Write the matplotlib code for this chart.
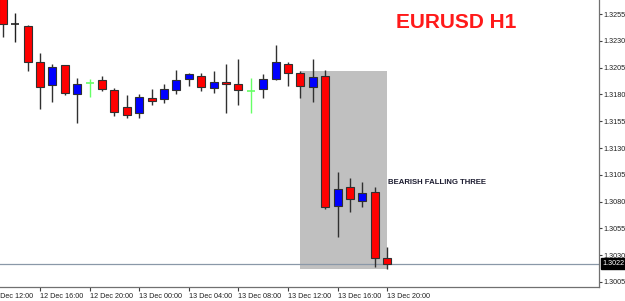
import matplotlib.pyplot as plt
import matplotlib.transforms as mtransforms
from matplotlib.patches import Rectangle

plt.rcParams["font.family"] = ["Liberation Sans", "DejaVu Sans"]

# EURUSD H1 bars, 12 Dec 13:00 -> 13 Dec 20:00
opens = [1.3272, 1.3246, 1.3244, 1.3210, 1.3189, 1.3207, 1.3180, 1.3191,
         1.3193, 1.3184, 1.3168, 1.3163, 1.3177, 1.3176, 1.3184, 1.3194,
         1.3197, 1.3186, 1.3192, 1.3190, 1.3183, 1.3185, 1.3194, 1.3208,
         1.3200, 1.3187, 1.3197, 1.3076, 1.3094, 1.3081, 1.3089, 1.3027]
highs = [1.3276, 1.3256, 1.3245, 1.3219, 1.3208, 1.3207, 1.3195, 1.3194,
         1.3197, 1.3186, 1.3179, 1.3180, 1.3185, 1.3190, 1.3203, 1.3200,
         1.3200, 1.3202, 1.3208, 1.3213, 1.3195, 1.3199, 1.3226, 1.3210,
         1.3202, 1.3213, 1.3203, 1.3108, 1.3102, 1.3098, 1.3094, 1.3038]
lows = [1.3234, 1.3229, 1.3202, 1.3166, 1.3173, 1.3179, 1.3153, 1.3178,
        1.3183, 1.3160, 1.3158, 1.3158, 1.3170, 1.3172, 1.3180, 1.3188,
        1.3183, 1.3181, 1.3163, 1.3170, 1.3163, 1.3177, 1.3193, 1.3188,
        1.3177, 1.3173, 1.3073, 1.3047, 1.3070, 1.3075, 1.3019, 1.3017]
closes = [1.3246, 1.3246, 1.3210, 1.3187, 1.3206, 1.3181, 1.3190, 1.3191,
          1.3185, 1.3164, 1.3161, 1.3178, 1.3174, 1.3185, 1.3193, 1.3199,
          1.3187, 1.3192, 1.3190, 1.3184, 1.3183, 1.3194, 1.3210, 1.3200,
          1.3188, 1.3196, 1.3075, 1.3092, 1.3082, 1.3088, 1.3027, 1.3022]
doji_colors = {1: "#202020", 7: "#66ff66", 20: "#66ff66"}

tick_pos = [-1, 3, 7, 11, 15, 19, 23, 27, 31]
tick_labels = ["12 Dec 12:00", "12 Dec 16:00", "12 Dec 20:00", "13 Dec 00:00",
               "13 Dec 04:00", "13 Dec 08:00", "13 Dec 12:00", "13 Dec 16:00",
               "13 Dec 20:00"]
price_ticks = [1.3005, 1.3030, 1.3055, 1.3080, 1.3105, 1.3130, 1.3155,
               1.3180, 1.3205, 1.3230, 1.3255]
last_price = 1.3022
pattern_box = (24, 31, 1.30171, 1.32018)  # x0, x1, y0, y1

XMIN, XMAX = -0.23, 48.08
LABEL_FS = 5.2

fig = plt.figure(figsize=(6.25, 3.01), dpi=100)
ax = fig.add_axes([0, 14 / 301, 599 / 625, 287 / 301])

# highlighted pattern area
x0, x1, y0, y1 = pattern_box
ax.add_patch(Rectangle((x0, y0), x1 - x0, y1 - y0, facecolor="#c0c0c0",
                       edgecolor="none", zorder=1))

ax.axhline(last_price, color="#8a98a8", lw=0.9, zorder=1.5)

body_w = 0.65
for i, (o, h, l, c) in enumerate(zip(opens, highs, lows, closes)):
    if i in doji_colors:
        col = doji_colors[i]
        ax.vlines(i, l, h, color=col, lw=1.0, zorder=2)
        ax.hlines(o, i - body_w / 2, i + body_w / 2, color=col, lw=1.2, zorder=3)
        continue
    ax.vlines(i, l, h, color="#303030", lw=1.0, zorder=2)
    face = "#0000ff" if c > o else "#ff0000"
    ax.bar(i, abs(c - o), bottom=min(o, c), width=body_w, color=face,
           edgecolor="#303030", linewidth=0.8, zorder=3)

# ticks inside the view go on the axis, the clipped first one is drawn by hand
inside = [(p, t) for p, t in zip(tick_pos, tick_labels) if p >= XMIN]
outside = [(p, t) for p, t in zip(tick_pos, tick_labels) if p < XMIN]
ax.set_xticks([p for p, _ in inside])
ax.set_xticklabels([t for _, t in inside], fontsize=LABEL_FS, color="#202020", ha="left")
ax.set_yticks(price_ticks)
ax.set_yticklabels([f"{p:.4f}" for p in price_ticks], fontsize=LABEL_FS, color="#202020")
ax.set_xlim(XMIN, XMAX)
ax.set_ylim(1.30003, 1.32681)
ax.yaxis.tick_right()
ax.tick_params(axis="x", length=3, width=0.8, color="#404040", pad=1.5)
ax.tick_params(axis="y", length=2, width=0.8, color="#404040", pad=1.5)

xtrans = mtransforms.blended_transform_factory(ax.transData, ax.transAxes)
for p, t in outside:
    ax.annotate(t, xy=(p, 0), xycoords=xtrans, xytext=(0, -4.5),
                textcoords="offset points", fontsize=LABEL_FS, color="#202020",
                ha="left", va="top", annotation_clip=False)

for side in ("left", "top"):
    ax.spines[side].set_visible(False)
for side in ("right", "bottom"):
    ax.spines[side].set_color("#707070")
    ax.spines[side].set_linewidth(0.9)

# current price marker on the scale
trans = mtransforms.blended_transform_factory(ax.transAxes, ax.transData)
ax.text(1.006, last_price, f"{last_price:.4f}", transform=trans, fontsize=LABEL_FS,
        color="white", va="center", ha="left", clip_on=False, zorder=5,
        bbox=dict(boxstyle="square,pad=0.25", facecolor="black", edgecolor="black"))

fig.text(396 / 625, 1 - 28 / 301, "EURUSD H1", color="#ff1a1a", fontsize=15,
         fontweight="bold", ha="left", va="baseline")
ax.text(31.06, 1.30964, "BEARISH FALLING THREE", color="#1c1c30", fontsize=5.6,
        fontweight="bold", ha="left", va="baseline", zorder=5)

fig.savefig("out.png", dpi=100, facecolor="white")
